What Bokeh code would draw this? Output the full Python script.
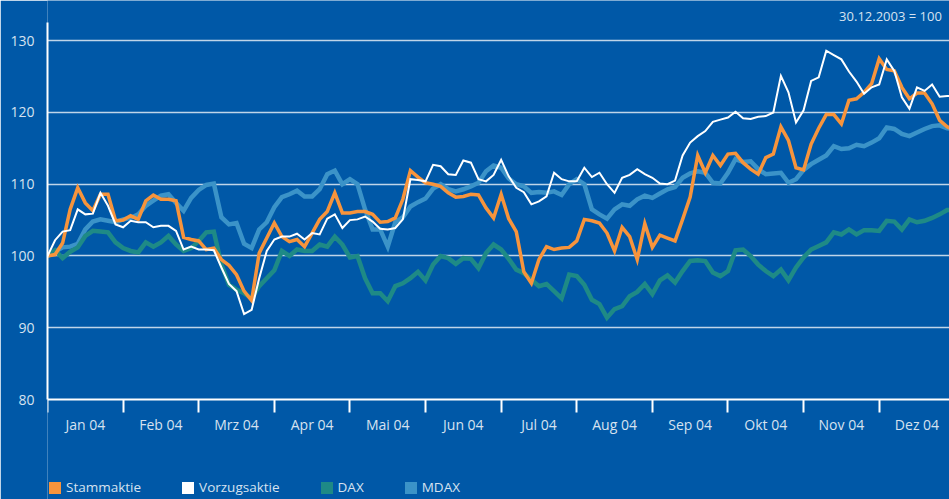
from bokeh.plotting import figure
from bokeh.models import FixedTicker, Range1d, Label, Legend, LegendItem, ColumnDataSource
from bokeh.embed import file_html
from bokeh.resources import INLINE

# x position in months since 30.12.2003 (0 = start of January 2004)
month_pos = [round(i * 0.1, 1) for i in range(121)]

month_labels = ["Jan 04", "Feb 04", "Mrz 04", "Apr 04", "Mai 04", "Jun 04",
                "Jul 04", "Aug 04", "Sep 04", "Okt 04", "Nov 04", "Dez 04"]
y_ticks = [80, 90, 100, 110, 120, 130]

stammaktie = [
    100.0, 100.2, 101.8, 106.5, 109.5, 107.4, 106.3, 108.6, 108.6, 104.9,
    105.0, 105.6, 105.1, 107.7, 108.5, 107.9, 107.9, 107.7, 102.6, 102.3,
    102.1, 100.9, 101.1, 99.5, 98.7, 97.4, 95.1, 93.8, 100.4, 102.5,
    104.6, 102.7, 102.0, 102.3, 101.3, 103.2, 105.1, 106.2, 108.8, 106.0,
    106.0, 106.2, 106.2, 105.8, 104.7, 104.8, 105.3, 107.9, 111.9, 111.0,
    110.2, 110.0, 109.7, 108.8, 108.2, 108.3, 108.6, 108.5, 106.7, 105.3,
    108.6, 105.2, 103.4, 97.8, 96.2, 99.5, 101.3, 100.9, 101.1, 101.2,
    102.1, 105.1, 104.9, 104.6, 103.2, 100.7, 104.0, 102.7, 99.5, 104.5,
    101.2, 102.9, 102.5, 102.1, 105.1, 108.2, 114.0, 111.6, 114.0, 112.6,
    114.2, 114.3, 113.0, 112.1, 111.4, 113.7, 114.2, 118.0, 116.1, 112.3,
    112.0, 115.6, 117.8, 119.7, 119.7, 118.4, 121.7, 121.9, 122.8, 124.0,
    127.5, 126.0, 125.8, 123.5, 121.9, 122.7, 122.7, 121.2, 118.9, 118.0,
    117.4]

vorzugsaktie = [
    100.0, 102.2, 103.4, 103.6, 106.5, 105.8, 105.9, 108.8, 107.0, 104.4,
    104.0, 104.9, 104.7, 104.7, 104.0, 104.2, 104.2, 103.5, 100.9, 101.3,
    100.9, 100.9, 100.8, 98.4, 96.1, 95.1, 91.9, 92.5, 96.9, 100.7,
    102.3, 102.7, 102.7, 103.1, 102.3, 103.2, 103.0, 105.2, 105.8, 103.9,
    105.0, 105.1, 105.5, 104.8, 103.8, 103.7, 103.9, 105.1, 110.7, 110.6,
    110.4, 112.7, 112.5, 111.4, 111.3, 113.3, 113.0, 110.7, 110.4, 111.3,
    113.4, 111.1, 109.5, 108.9, 107.2, 107.6, 108.3, 111.6, 110.7, 110.4,
    110.4, 112.3, 111.0, 111.6, 110.0, 108.8, 110.9, 111.3, 112.1, 111.4,
    110.9, 110.1, 110.0, 110.5, 114.0, 115.8, 116.7, 117.4, 118.7, 119.0,
    119.3, 120.1, 119.2, 119.1, 119.4, 119.5, 120.0, 125.1, 122.8, 118.6,
    120.3, 124.4, 124.9, 128.6, 128.0, 127.4, 125.7, 124.3, 122.6, 123.5,
    123.9, 127.4, 125.8, 122.1, 120.5, 123.5, 123.0, 123.9, 122.2, 122.3,
    122.2]

dax = [
    100.0, 100.8, 99.7, 100.6, 101.2, 102.8, 103.5, 103.4, 103.3, 101.9,
    101.1, 100.7, 100.5, 101.9, 101.3, 101.9, 102.8, 101.6, 100.7, 101.1,
    102.1, 103.3, 103.4, 98.8, 96.0, 95.3, 94.8, 94.1, 95.8, 96.9,
    98.0, 100.7, 100.0, 100.9, 100.7, 100.7, 101.6, 101.3, 102.7, 101.6,
    99.8, 100.0, 96.9, 94.8, 94.8, 93.7, 95.8, 96.2, 96.9, 97.8,
    96.6, 98.8, 100.0, 99.7, 98.9, 99.7, 99.6, 98.3, 100.4, 101.6,
    100.9, 99.6, 98.1, 97.6, 96.7, 95.8, 96.1, 95.1, 94.1, 97.4,
    97.2, 96.0, 93.9, 93.3, 91.4, 92.6, 93.0, 94.4, 95.0, 96.1,
    94.7, 96.6, 97.3, 96.3, 97.9, 99.3, 99.4, 99.3, 97.7, 97.2,
    97.9, 100.8, 100.9, 100.0, 98.8, 97.9, 97.2, 98.1, 96.6, 98.4,
    99.8, 100.9, 101.4, 101.9, 103.3, 103.0, 103.7, 103.0, 103.6, 103.6,
    103.5, 104.9, 104.8, 103.7, 105.1, 104.7, 104.9, 105.3, 105.8, 106.4,
    106.5]

mdax = [
    100.0, 100.6, 101.2, 101.3, 101.7, 103.7, 104.8, 105.1, 104.9, 104.7,
    105.1, 105.3, 105.8, 107.0, 107.7, 108.4, 108.6, 107.4, 106.3, 108.1,
    109.2, 109.9, 110.1, 105.4, 104.4, 104.6, 101.7, 101.1, 103.7, 104.7,
    106.8, 108.2, 108.6, 109.1, 108.3, 108.3, 109.3, 111.4, 111.9, 110.0,
    110.7, 110.0, 106.5, 103.7, 103.7, 101.3, 104.7, 105.4, 106.9, 107.5,
    108.0, 109.4, 110.0, 109.3, 109.0, 109.3, 109.7, 110.2, 111.8, 112.6,
    112.3, 110.8, 110.0, 109.7, 108.8, 108.9, 108.8, 109.0, 108.5, 110.0,
    110.7, 110.0, 106.5, 105.8, 105.2, 106.5, 107.2, 107.0, 107.9, 108.4,
    108.1, 108.7, 109.3, 109.6, 110.9, 111.5, 111.8, 111.6, 110.2, 110.1,
    111.6, 113.5, 113.1, 113.2, 112.1, 111.4, 111.5, 111.6, 110.2, 110.7,
    112.0, 112.8, 113.4, 114.0, 115.3, 114.9, 115.0, 115.5, 115.3, 115.8,
    116.4, 117.9, 117.7, 117.0, 116.7, 117.2, 117.7, 118.1, 118.2, 117.8,
    117.6]

series_names = ["Stammaktie", "Vorzugsaktie", "DAX", "MDAX"]

BG = "#0058A7"
TXT = "#D6E2F0"
C_ST = "#F7943C"
C_VZ = "#FFFFFF"
C_DAX = "#1E8A86"
C_MDAX = "#3B93C8"
FONT = "Open Sans"

src = ColumnDataSource(dict(x=month_pos, st=stammaktie, vz=vorzugsaktie, dax=dax, mdax=mdax))

# frame covers the whole height; the value axis runs 80..132.6, the x axis sits at 80
p = figure(frame_width=902, frame_height=499, output_backend="svg", toolbar_location=None,
           x_range=Range1d(0, 11.93), y_range=Range1d(66.07, 135.6),
           min_border_left=47, min_border_right=0, min_border_top=0, min_border_bottom=0)
p.background_fill_color = BG
p.border_fill_color = BG
p.outline_line_color = None

# x axis: month boundaries as (minor) ticks, month names centred in between
xa = p.xaxis[0]
xa.fixed_location = 80
xa.ticker = FixedTicker(ticks=[i + 0.5 for i in range(12)], minor_ticks=list(range(13)))
xa.major_label_overrides = {i + 0.5: lab for i, lab in enumerate(month_labels)}
xa.major_tick_line_color = None
xa.major_tick_out = 0
xa.major_tick_in = 0
xa.minor_tick_line_color = "white"
xa.minor_tick_line_width = 2
xa.minor_tick_out = 13
xa.minor_tick_in = 0
xa.axis_line_color = "white"
xa.axis_line_width = 2
xa.major_label_standoff = 2
xa.major_label_text_color = TXT
xa.major_label_text_font = FONT
xa.major_label_text_font_size = "14px"

ya = p.yaxis[0]
ya.ticker = FixedTicker(ticks=y_ticks)
ya.bounds = (80, 132.6)
ya.major_tick_line_color = None
ya.major_tick_out = 0
ya.major_tick_in = 0
ya.minor_tick_line_color = None
ya.axis_line_color = "white"
ya.axis_line_width = 2
ya.major_label_standoff = 13
ya.major_label_text_color = TXT
ya.major_label_text_font = FONT
ya.major_label_text_font_size = "14px"

p.xgrid.visible = False
p.ygrid.ticker = FixedTicker(ticks=[t for t in y_ticks if t > 80])
p.ygrid.grid_line_color = "white"
p.ygrid.grid_line_alpha = 0.75
p.ygrid.grid_line_width = 1.5

# series
p.line("x", "mdax", source=src, line_color=C_MDAX, line_width=4.5, line_join="miter")
p.line("x", "dax", source=src, line_color=C_DAX, line_width=4.5, line_join="miter")
p.line("x", "st", source=src, line_color=C_ST, line_width=3.5, line_join="miter")
p.line("x", "vz", source=src, line_color=C_VZ, line_width=2, line_join="miter")

# legend swatches: zero-area boxes at each series' first point (invisible in the plot)
proxies = []
for c, vals in zip([C_ST, C_VZ, C_DAX, C_MDAX], [stammaktie, vorzugsaktie, dax, mdax]):
    proxies.append(p.quad(left=[month_pos[0]], right=[month_pos[0]],
                          top=[vals[0]], bottom=[vals[0]],
                          fill_color=c, line_color=None))
legend = Legend(items=[LegendItem(label=l, renderers=[r]) for l, r in zip(series_names, proxies)],
                orientation="horizontal", location=(0, 3))
legend.background_fill_alpha = 0
legend.border_line_alpha = 0
legend.padding = 0
legend.margin = 0
legend.spacing = 39
legend.glyph_width = 15
legend.glyph_height = 15
legend.label_height = 15
legend.label_standoff = 4
legend.label_text_color = TXT
legend.label_text_font = FONT
legend.label_text_font_size = "13.5px"
p.add_layout(legend)

p.add_layout(Label(x=10.47, y=133.45, text="30.12.2003 = 100", text_baseline="middle",
                   text_color=TXT, text_font=FONT, text_font_size="13px"))

html = file_html(p, INLINE, title="Kursentwicklung 2004")
html = html.replace("<body>", '<body style="margin:0;overflow:hidden;background-color:%s;">' % BG, 1)
open("out.html", "w").write(html)
